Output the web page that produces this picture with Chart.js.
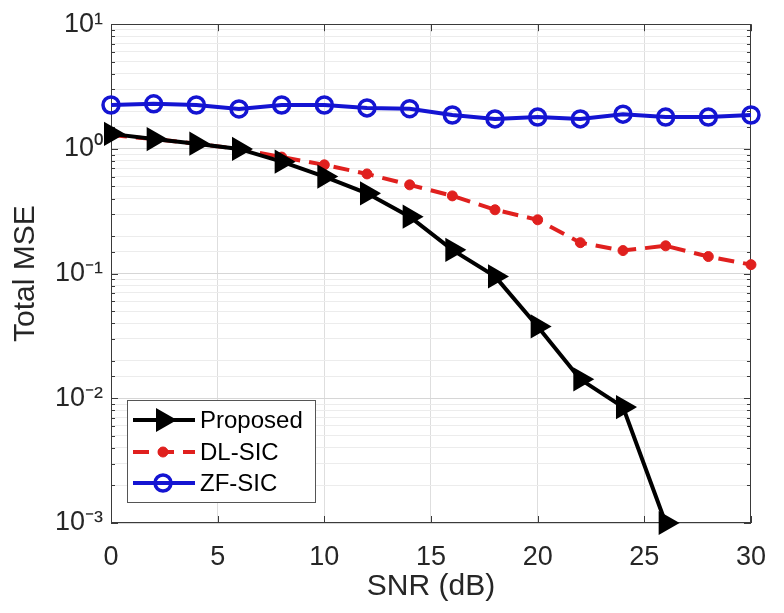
<!DOCTYPE html>
<html>
<head>
<meta charset="utf-8">
<script src="https://cdn.jsdelivr.net/npm/chart.js@4/dist/chart.umd.min.js"></script>
<style>
  html, body { margin: 0; padding: 0; background: #ffffff; }
  #wrap { width: 784px; height: 613px; }
</style>
</head>
<body>
<div id="wrap"><canvas id="c" width="784" height="613"></canvas></div>
<script>
// ---- data ----
const snr = [0, 2, 4, 6, 8, 10, 12, 14, 16, 18, 20, 22, 24, 26, 28, 30];
const proposed = [1.32, 1.2, 1.1, 1.0, 0.79, 0.6, 0.44, 0.286, 0.155, 0.095, 0.0377, 0.0142, 0.0085, 0.001];
const dlSic = [1.29, 1.2, 1.1, 1.0, 0.86, 0.745, 0.63, 0.515, 0.42, 0.325, 0.27, 0.177, 0.153, 0.167, 0.137, 0.118];
const zfSic = [2.25, 2.3, 2.25, 2.09, 2.25, 2.25, 2.13, 2.1, 1.87, 1.74, 1.8, 1.74, 1.9, 1.8, 1.8, 1.87];
const seriesNames = ['Proposed', 'DL-SIC', 'ZF-SIC'];
const xTickValues = [0, 5, 10, 15, 20, 25, 30];
const yDecades = [-3, -2, -1, 0, 1];
const xTitle = 'SNR (dB)';
const yTitle = 'Total MSE';

const SUP = {'-': '\u207B', '0': '\u2070', '1': '\u00B9', '2': '\u00B2', '3': '\u00B3'};
function supText(n) { return String(n).split('').map(c => SUP[c]).join(''); }
function isDecade(v) { const l = Math.log10(v); return Math.abs(l - Math.round(l)) < 1e-9; }

const FONT = "'Liberation Sans', Arial, Helvetica, sans-serif";
Chart.defaults.font.family = FONT;
Chart.defaults.color = '#262626';

const toPts = arr => arr.map((v, i) => ({x: snr[i], y: v}));

const BLACK = '#000000', RED = '#e0201e', BLUE = '#1414d2';

const framePlugin = {
  id: 'frame',
  beforeDatasetsDraw(chart) {
    const {ctx, chartArea: {left, right, top, bottom}, scales: {x, y}} = chart;
    ctx.save();
    ctx.strokeStyle = '#3a3a3a';
    ctx.lineWidth = 1;
    ctx.beginPath();
    y.ticks.forEach(t => {
      const p = Math.round(y.getPixelForValue(t.value)) + 0.5;
      const len = isDecade(t.value) ? 7 : 4;
      ctx.moveTo(left, p); ctx.lineTo(left + len, p);
      ctx.moveTo(right, p); ctx.lineTo(right - len, p);
    });
    x.ticks.forEach(t => {
      const p = Math.round(x.getPixelForValue(t.value)) + 0.5;
      ctx.moveTo(p, bottom); ctx.lineTo(p, bottom - 7);
      ctx.moveTo(p, top); ctx.lineTo(p, top + 7);
    });
    ctx.stroke();
    ctx.strokeRect(Math.round(left) + 0.5, Math.round(top) + 0.5, Math.round(right - left) - 1, Math.round(bottom - top) - 1);
    ctx.restore();
  }
};

const legendPlugin = {
  id: 'boxLegend',
  afterDatasetsDraw(chart) {
    const {ctx, chartArea: {left, bottom}} = chart;
    const bx = left + 16, bw = 188, bh = 102, by = bottom - 21 - bh;
    ctx.save();
    ctx.fillStyle = '#ffffff';
    ctx.fillRect(bx, by, bw, bh);
    ctx.strokeStyle = '#555555';
    ctx.lineWidth = 1;
    ctx.strokeRect(bx + 0.5, by + 0.5, bw, bh);
    const rows = [by + 20, by + 52, by + 83];
    const x0 = bx + 6, x1 = bx + 68, xm = bx + 36;
    chart.data.datasets.forEach((ds, i) => {
      const yy = rows[i];
      ctx.save();
      ctx.strokeStyle = ds.borderColor;
      ctx.lineWidth = ds.borderWidth;
      ctx.setLineDash(ds.borderDash || []);
      ctx.beginPath(); ctx.moveTo(x0, yy); ctx.lineTo(x1, yy); ctx.stroke();
      ctx.restore();
      ctx.save();
      ctx.fillStyle = ds.pointBackgroundColor;
      ctx.strokeStyle = ds.pointBorderColor;
      ctx.lineWidth = ds.pointBorderWidth;
      Chart.helpers.drawPoint(ctx, {
        pointStyle: ds.pointStyle,
        rotation: ds.pointRotation || 0,
        radius: ds.pointRadius,
        borderWidth: ds.pointBorderWidth
      }, xm, yy);
      ctx.restore();
      ctx.fillStyle = '#000000';
      ctx.font = '24px ' + FONT;
      ctx.textBaseline = 'middle';
      ctx.textAlign = 'left';
      ctx.fillText(ds.label, bx + 73, yy + 1);
    });
    ctx.restore();
  }
};

const chart = new Chart(document.getElementById('c'), {
  type: 'line',
  data: {
    datasets: [
      {
        label: seriesNames[0], data: toPts(proposed),
        borderColor: BLACK, borderWidth: 4,
        pointStyle: 'triangle', pointRotation: 90, pointRadius: 11,
        pointBackgroundColor: BLACK, pointBorderColor: BLACK, pointBorderWidth: 3,
        clip: false
      },
      {
        label: seriesNames[1], data: toPts(dlSic),
        borderColor: RED, borderWidth: 4, borderDash: [16, 9],
        pointStyle: 'circle', pointRadius: 5,
        pointBackgroundColor: RED, pointBorderColor: RED, pointBorderWidth: 1,
        clip: false
      },
      {
        label: seriesNames[2], data: toPts(zfSic),
        borderColor: BLUE, borderWidth: 4,
        pointStyle: 'circle', pointRadius: 8,
        pointBackgroundColor: 'rgba(0,0,0,0)', pointBorderColor: BLUE, pointBorderWidth: 3.5,
        clip: false
      }
    ]
  },
  options: {
    responsive: false,
    animation: false,
    layout: { padding: { top: 22, right: 16, left: 0, bottom: 0 } },
    plugins: { legend: { display: false }, tooltip: { enabled: false } },
    elements: { line: { tension: 0 } },
    scales: {
      x: {
        type: 'linear', min: 0, max: 30,
        afterBuildTicks: s => { s.ticks = xTickValues.map(v => ({value: v})); },
        afterFit: s => { s.height = 90; },
        grid: { color: '#dedede', drawTicks: false, lineWidth: 1 },
        border: { display: false },
        ticks: { font: { size: 27 }, color: '#262626', padding: 18, maxRotation: 0 },
        title: { display: true, text: xTitle, font: { size: 30 }, color: '#262626', padding: { bottom: 8, top: 0 } }
      },
      y: {
        type: 'logarithmic', min: 1e-3, max: 10,
        afterFit: s => { s.width = 111; },
        grid: {
          color: c => (c.tick && isDecade(c.tick.value)) ? '#d6d6d6' : '#ececec',
          drawTicks: false, lineWidth: 1
        },
        border: { display: false },
        ticks: {
          autoSkip: false, font: { size: 27 }, color: '#262626', padding: 8,
          callback: v => {
            if (!isDecade(v)) return '';
            const e = Math.round(Math.log10(v));
            return yDecades.includes(e) ? '10' + supText(e) : '';
          }
        },
        title: { display: true, text: yTitle, font: { size: 30 }, color: '#262626', padding: { top: 8, bottom: 0 } }
      }
    }
  },
  plugins: [framePlugin, legendPlugin]
});
</script>
</body>
</html>
